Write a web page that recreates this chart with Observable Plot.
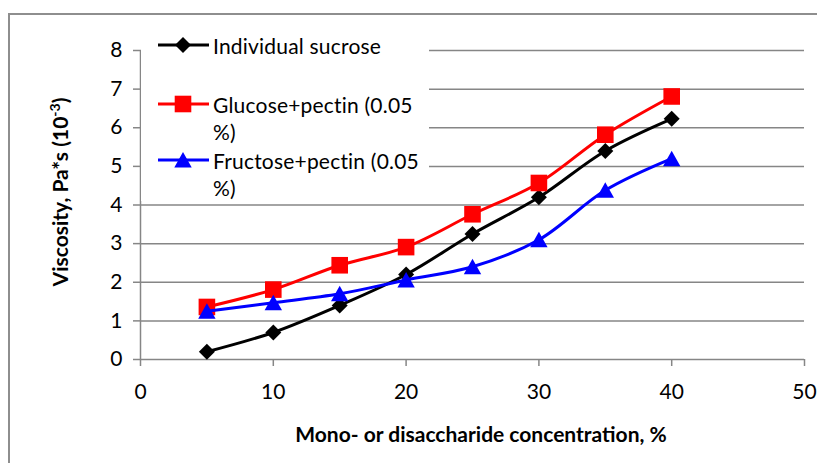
<!DOCTYPE html>
<html>
<head>
<meta charset="utf-8">
<script src="https://cdn.jsdelivr.net/npm/d3@7"></script>
<script src="https://cdn.jsdelivr.net/npm/@observablehq/plot@0.6"></script>
<style>
  html, body { margin: 0; padding: 0; background: #fff; }
  #wrap { position: relative; width: 817px; height: 463px; overflow: hidden; font-family: Lato, "Liberation Sans", sans-serif; }
  #border { position: absolute; left: 8px; top: 13px; width: 900px; height: 500px; border-left: 2px solid #8e8e8e; border-top: 2px solid #8e8e8e; box-sizing: border-box; }
  #chart { position: absolute; left: 0; top: 0; }
  #chart [aria-label^="y-axis"] line, #chart [aria-label^="y-axis"] path,
  #chart [aria-label^="x-axis"] line, #chart [aria-label^="x-axis"] path { stroke: #868686; stroke-width: 1.5; }
  #chart [aria-label^="y-axis"] .domain, #chart [aria-label^="x-axis"] .domain { display: none; }
  .title { position: absolute; font-weight: bold; white-space: nowrap; color: #000; }
  #xtitle { left: 481px; top: 433px; transform: translate(-50%, -50%); font-size: 21px; }
  #ytitle { left: 59px; top: 192px; transform: translate(-50%, -50%) rotate(-90deg); font-size: 21px; }
  #ytitle sup { font-size: 14px; }
  #legend { position: absolute; left: 0; top: 0; }
</style>
</head>
<body>
<div id="wrap">
  <div id="border"></div>
  <div id="chart"></div>
  <div id="xtitle" class="title">Mono- or disaccharide concentration, %</div>
  <div id="ytitle" class="title">Viscosity, Pa*s (10<sup>-3</sup>)</div>
</div>
<script>
// ---- data ----
const concentration = [5, 10, 15, 20, 25, 30, 35, 40];
const sucrose  = [0.2, 0.7, 1.4, 2.2, 3.25, 4.2, 5.4, 6.23];
const glucose  = [1.36, 1.81, 2.44, 2.91, 3.76, 4.57, 5.82, 6.81];
const fructose = [1.25, 1.47, 1.7, 2.06, 2.4, 3.1, 4.38, 5.2];
const seriesNames = ["Individual sucrose", "Glucose+pectin (0.05 %)", "Fructose+pectin (0.05 %)"];
const legendLines = [["Individual sucrose"], ["Glucose+pectin (0.05", "%)"], ["Fructose+pectin (0.05", "%)"]];
const xTicks = [0, 10, 20, 30, 40, 50];
const yTicks = [0, 1, 2, 3, 4, 5, 6, 7, 8];

// ---- symbols ----
const diamondSym = { draw(ctx) { const r = 8; ctx.moveTo(0, -r); ctx.lineTo(r, 0); ctx.lineTo(0, r); ctx.lineTo(-r, 0); ctx.closePath(); } };
const squareSym = { draw(ctx) { const h = 8.3; ctx.moveTo(-h, -h); ctx.lineTo(h, -h); ctx.lineTo(h, h); ctx.lineTo(-h, h); ctx.closePath(); } };
const triangleSym = { draw(ctx) { ctx.moveTo(0, -8); ctx.lineTo(8.7, 7.5); ctx.lineTo(-8.7, 7.5); ctx.closePath(); } };

const colors = ["#000000", "#ff0000", "#0000ff"];
const symbols = [diamondSym, squareSym, triangleSym];
const values = [sucrose, glucose, fructose];

const series = values.map((vals, i) => concentration.map((c, j) => ({ x: c, y: vals[j], s: seriesNames[i] })));

const marks = [
  Plot.ruleY(yTicks.filter(d => d > 0), { stroke: "#868686", strokeWidth: 1.5 }),
  Plot.ruleX([0], { y1: 0, y2: 8, stroke: "#868686", strokeWidth: 1.5 }),
  Plot.ruleY([0], { stroke: "#868686", strokeWidth: 1.5 })
];
series.forEach((data, i) => {
  marks.push(Plot.line(data, { x: "x", y: "y", stroke: colors[i], strokeWidth: 3, curve: "catmull-rom" }));
  marks.push(Plot.dot(data, { x: "x", y: "y", fill: colors[i], stroke: "none", symbol: symbols[i], r: 8 }));
});

const W = 817, H = 463;
const chart = Plot.plot({
  width: W, height: H,
  marginLeft: 140, marginRight: 13, marginTop: 50, marginBottom: 104,
  style: { fontFamily: "Lato, 'Liberation Sans', sans-serif", fontSize: "21px", background: "transparent", color: "#000" },
  x: { domain: [0, 50], ticks: xTicks, tickSize: 7, tickPadding: 18, label: null, tickFormat: d => String(d) },
  y: { domain: [0, 8], ticks: yTicks, tickSize: 7, tickPadding: 11, label: null, tickFormat: d => String(d) },
  marks
});
document.getElementById("chart").appendChild(chart);

// ---- legend overlay ----
const lg = d3.select("#wrap").append("svg").attr("id", "legend").attr("width", W).attr("height", H);
lg.append("rect").attr("x", 141).attr("y", 33).attr("width", 288).attr("height", 168).attr("fill", "#fff");
const rowY = [45, 104, 160];
legendLines.forEach((lines, i) => {
  const y = rowY[i];
  lg.append("line").attr("x1", 158).attr("x2", 209).attr("y1", y).attr("y2", y).attr("stroke", colors[i]).attr("stroke-width", 3);
  const p = d3.path(); symbols[i].draw(p, 0);
  lg.append("path").attr("d", p.toString()).attr("transform", `translate(183,${y})`).attr("fill", colors[i]);
  lines.forEach((t, k) => {
    lg.append("text").attr("x", 213).attr("y", y + k * 27).attr("dominant-baseline", "central")
      .attr("font-family", "Lato, 'Liberation Sans', sans-serif").attr("font-size", 21).attr("letter-spacing", "0.2px").text(t);
  });
});
</script>
</body>
</html>
